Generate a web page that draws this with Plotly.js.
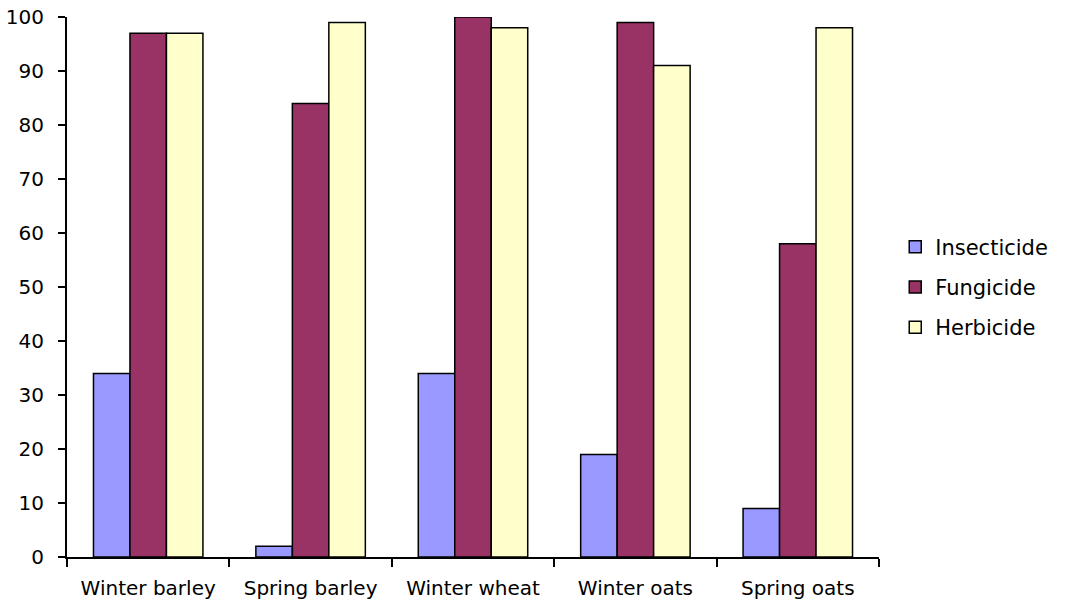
<!DOCTYPE html>
<html>
<head>
<meta charset="utf-8">
<script src="https://cdn.plot.ly/plotly-3.0.1.min.js"></script>
<style>html,body{margin:0;padding:0;background:#fff;}#chart{width:1066px;height:610px;}</style>
</head>
<body>
<div id="chart"></div>
<script>
const categories = ["Winter barley", "Spring barley", "Winter wheat", "Winter oats", "Spring oats"];
const insecticide = [34, 2, 34, 19, 9];
const fungicide = [97, 84, 100, 99, 58];
const herbicide = [97, 99, 98, 91, 98];
const yTicks = [0, 10, 20, 30, 40, 50, 60, 70, 80, 90, 100];

const mk = (name, vals, color) => ({
  type: "bar", name: name, x: categories, y: vals, legendgroup: name,
  marker: {color: color, line: {color: "#000", width: 1.5}}
});
const data = [
  mk("Insecticide", insecticide, "#9999FF"),
  mk("Fungicide", fungicide, "#993366"),
  mk("Herbicide", herbicide, "#FFFFCC")
];
const layout = {
  width: 1066, height: 610,
  margin: {l: 67, r: 187, t: 17, b: 53},
  paper_bgcolor: "#fff", plot_bgcolor: "#fff",
  font: {family: "DejaVu Sans, Liberation Sans, Arial, sans-serif", size: 21, color: "#000"},
  barmode: "group", bargap: 0.326, bargroupgap: 0,
  showlegend: true,
  legend: {x: 1.02, xanchor: "left", y: 0.5, yanchor: "middle", font: {size: 21},
           traceorder: "grouped", tracegroupgap: 10, itemwidth: 30},
  xaxis: {type: "category", showline: true, linecolor: "#000", linewidth: 2, ticks: "outside", tickson: "boundaries",
          ticklen: 8, tickwidth: 2, tickcolor: "#000", showgrid: false, zeroline: false,
          tickfont: {size: 20}, ticklabelstandoff: 12},
  yaxis: {range: [0, 100], tickvals: yTicks, showline: true, linecolor: "#000", linewidth: 2, ticks: "outside",
          ticklen: 7, tickwidth: 2, tickcolor: "#000", showgrid: false, zeroline: false,
          tickfont: {size: 20}, ticklabelstandoff: 10}
};
Plotly.newPlot("chart", data, layout, {displayModeBar: false, staticPlot: true});
</script>
</body>
</html>
